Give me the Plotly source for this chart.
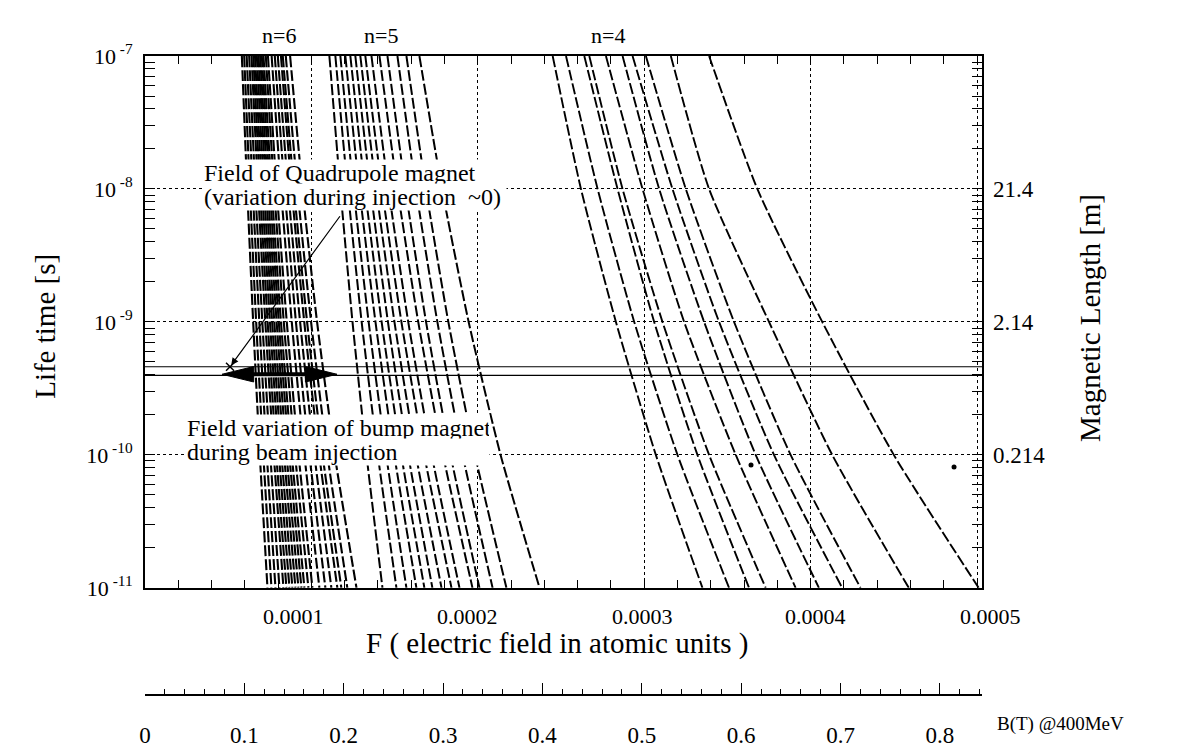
import math
import plotly.graph_objects as go

# ---------------- data ----------------
# lifetime levels (s) at which every curve was read
tau_levels = [1e-7, 1e-8, 1e-9, 1e-10, 1e-11]

# electric field F (units of 1e-4 a.u.) of each curve at the lifetime levels above
n6_curves = [
    [0.582, 0.614, 0.650, 0.690, 0.736],
    [0.596, 0.630, 0.668, 0.711, 0.760],
    [0.611, 0.647, 0.687, 0.732, 0.784],
    [0.626, 0.663, 0.705, 0.753, 0.808],
    [0.640, 0.679, 0.723, 0.774, 0.832],
    [0.651, 0.691, 0.737, 0.789, 0.850],
    [0.661, 0.703, 0.751, 0.805, 0.868],
    [0.672, 0.715, 0.764, 0.820, 0.886],
    [0.682, 0.727, 0.777, 0.836, 0.904],
    [0.692, 0.738, 0.791, 0.851, 0.922],
    [0.702, 0.750, 0.804, 0.867, 0.940],
    [0.712, 0.761, 0.817, 0.882, 0.958],
    [0.726, 0.776, 0.834, 0.902, 0.982],
    [0.739, 0.791, 0.852, 0.923, 1.006],
    [0.761, 0.817, 0.882, 0.958, 1.048],
    [0.780, 0.839, 0.907, 0.988, 1.084],
    [0.798, 0.860, 0.932, 1.018, 1.120],
    [0.817, 0.881, 0.957, 1.047, 1.156],
    [0.828, 0.895, 0.974, 1.067, 1.180],
    [0.846, 0.916, 0.998, 1.096, 1.216],
    [0.872, 0.946, 1.034, 1.140, 1.271],
]
n5_curves = [
    [1.108, 1.174, 1.247, 1.331, 1.427],
    [1.144, 1.218, 1.302, 1.399, 1.511],
    [1.174, 1.253, 1.344, 1.449, 1.571],
    [1.204, 1.288, 1.385, 1.498, 1.631],
    [1.234, 1.322, 1.422, 1.540, 1.679],
    [1.264, 1.355, 1.460, 1.582, 1.727],
    [1.294, 1.389, 1.499, 1.628, 1.782],
    [1.324, 1.424, 1.541, 1.678, 1.842],
    [1.361, 1.463, 1.582, 1.723, 1.890],
    [1.409, 1.517, 1.642, 1.791, 1.968],
    [1.457, 1.565, 1.689, 1.836, 2.010],
    [1.517, 1.628, 1.757, 1.909, 2.089],
    [1.571, 1.688, 1.823, 1.983, 2.172],
    [1.649, 1.785, 1.945, 2.137, 2.371],
]
n4_curves = [
    [2.45, 2.62, 2.83, 3.07, 3.35],
    [2.53, 2.72, 2.94, 3.20, 3.51],
    [2.64, 2.84, 3.06, 3.32, 3.63],
    [2.67, 2.87, 3.11, 3.39, 3.73],
    [2.77, 2.99, 3.24, 3.55, 3.91],
    [2.87, 3.09, 3.36, 3.67, 4.05],
    [2.93, 3.17, 3.45, 3.78, 4.19],
    [3.01, 3.25, 3.54, 3.88, 4.30],
    [3.16, 3.39, 3.75, 4.13, 4.59],
    [3.39, 3.68, 4.07, 4.50, 5.01],
]
F_unit = 1e-4

stray_F = [3.642, 4.862]          # isolated dots (1e-4 a.u.)
stray_tau = [8.4e-11, 8.1e-11]

tau_quad = 4.6e-10                # Field of quadrupole magnet
tau_bump = 3.96e-10               # Field variation of bump magnet
bump_range_F = [0.463, 1.154]     # double arrow extent (1e-4 a.u.)
quad_point_F = 0.511
quad_point_tau = 4.6e-10

F_tick_labels = ["0.0001", "0.0002", "0.0003", "0.0004", "0.0005"]
F_label_px = [293, 467, 642, 815, 990]          # where the labels sit in the figure
y_tick_vals = [1e-11, 1e-10, 1e-9, 1e-8, 1e-7]
y_tick_text = ["10<sup>\u00a0-11</sup>", "10<sup>\u00a0-10</sup>", "10<sup>\u00a0-9</sup>",
               "10<sup>\u00a0-8</sup>", "10<sup>\u00a0-7</sup>"]
mag_tick_vals = [1e-8, 1e-9, 1e-10]
mag_tick_text = ["21.4", "2.14", "0.214"]
B_range = [0.0, 0.8424]

# ---------------- layout geometry ----------------
W, H = 1184, 750
ML, MR, MT, MB = 145, 202, 56, 0
PW, PH = W - ML - MR, H - MT - MB
X_MAX = 5.03e-4
Y_BOTTOM_PX = 598
B_AXIS_PX = 707


def px_x(px):
    return (px - ML) / PW


def px_y(py):
    return (H - py) / PH


FONT = "Liberation Serif, Times New Roman, serif"
fig = go.Figure()

dash = "11px,3px"
for group, lw in ((n6_curves, 2.1), (n5_curves, 2.0), (n4_curves, 1.9)):
    for c in group:
        fig.add_trace(go.Scatter(
            x=[v * F_unit for v in c], y=tau_levels, mode="lines",
            line=dict(color="black", width=lw, dash=dash, shape="spline", smoothing=0.6),
            hoverinfo="skip"))

# horizontal field lines
fig.add_trace(go.Scatter(x=[0, X_MAX], y=[tau_quad, tau_quad], mode="lines",
                         line=dict(color="black", width=1.2), hoverinfo="skip", yaxis="y2"))
fig.add_trace(go.Scatter(x=[0, X_MAX], y=[tau_bump, tau_bump], mode="lines",
                         line=dict(color="black", width=1.2), hoverinfo="skip"))

# double arrow for bump field variation
hl = 0.19 * F_unit
hh = 10 ** 0.058
L, R = bump_range_F[0] * F_unit, bump_range_F[1] * F_unit
ya = tau_bump * 1.02
fig.add_trace(go.Scatter(x=[L + hl * 0.9, R - hl * 0.9], y=[ya, ya], mode="lines",
                         line=dict(color="black", width=4), hoverinfo="skip"))
for tip, d in ((L, 1), (R, -1)):
    fig.add_trace(go.Scatter(
        x=[tip, tip + d * hl, tip + d * hl, tip],
        y=[ya, ya * hh, ya / hh, ya],
        mode="lines", fill="toself", fillcolor="black",
        line=dict(color="black", width=1), hoverinfo="skip"))

# marker at the quadrupole arrow head
fig.add_trace(go.Scatter(x=[quad_point_F * F_unit], y=[quad_point_tau], mode="markers",
                         marker=dict(symbol="x-thin", size=8, line=dict(color="black", width=1.5)),
                         hoverinfo="skip"))
# stray dots
fig.add_trace(go.Scatter(x=[v * F_unit for v in stray_F], y=stray_tau, mode="markers",
                         marker=dict(color="black", size=5), hoverinfo="skip"))
# dummy trace to activate the B axis
fig.add_trace(go.Scatter(x=[None], y=[None], xaxis="x2", yaxis="y", hoverinfo="skip"))

minor_log = [m * 10.0 ** e for e in range(-11, -7) for m in range(2, 10)]
y_dom0 = px_y(Y_BOTTOM_PX)

fig.update_layout(
    width=W, height=H, margin=dict(l=ML, r=MR, t=MT, b=MB),
    paper_bgcolor="white", plot_bgcolor="white", showlegend=False,
    font=dict(family=FONT, size=22, color="black"),
    xaxis=dict(range=[0, X_MAX], domain=[0, 1], anchor="y",
               showline=True, linewidth=2, linecolor="black", mirror="allticks",
               ticks="inside", ticklen=8, tickwidth=1, tickcolor="black",
               tick0=0, dtick=1e-4, showticklabels=False,
               showgrid=True, gridcolor="black", gridwidth=1, griddash="dot", zeroline=False,
               minor=dict(dtick=2e-5, tick0=0, ticks="inside", ticklen=5, tickcolor="black", showgrid=False)),
    yaxis=dict(type="log", range=[-11, -7], domain=[y_dom0, 1], anchor="x",
               showline=True, linewidth=2, linecolor="black", mirror="allticks",
               ticks="inside", ticklen=10, tickwidth=1, tickcolor="black",
               tickmode="array", tickvals=y_tick_vals, ticktext=y_tick_text,
               tickfont=dict(size=22), ticklabelstandoff=6,
               showgrid=True, gridcolor="black", gridwidth=1, griddash="dot", zeroline=False,
               minor=dict(tickmode="array", tickvals=minor_log, ticks="inside", ticklen=5,
                          tickcolor="black", showgrid=False)),
    yaxis2=dict(type="log", range=[-11, -7], overlaying="y", side="right", anchor="x",
                tickmode="array", tickvals=mag_tick_vals, ticktext=mag_tick_text,
                ticks="", showline=False, showgrid=False, zeroline=False,
                tickfont=dict(size=23), ticklabelstandoff=10),
    xaxis2=dict(overlaying="x", anchor="free", position=px_y(B_AXIS_PX), side="bottom",
                range=B_range, showline=True, linewidth=1.5, linecolor="black",
                ticks="inside", ticklen=11, tickwidth=1, tickcolor="black",
                tick0=0, dtick=0.1, tickformat=".1~f", showgrid=False, zeroline=False,
                tickfont=dict(size=23), ticklabelstandoff=20,
                minor=dict(dtick=0.02, tick0=0, ticks="inside", ticklen=5, tickcolor="black", showgrid=False)),
)

ann = []
# F axis tick labels (placed as in the figure)
for lab, px in zip(F_tick_labels, F_label_px):
    ann.append(dict(x=px_x(px), y=px_y(627), xref="paper", yref="paper", text=lab,
                    showarrow=False, font=dict(size=22), xanchor="center", yanchor="middle"))
ann += [
    dict(x=px_x(557), y=px_y(655), xref="paper", yref="paper",
         text="F ( electric field in atomic units )", showarrow=False,
         font=dict(size=29), xanchor="center", yanchor="middle"),
    dict(x=px_x(45), y=px_y(332), xref="paper", yref="paper", text="Life time [s]",
         showarrow=False, textangle=-90, font=dict(size=29), xanchor="center", yanchor="middle"),
    dict(x=px_x(1090), y=px_y(323), xref="paper", yref="paper", text="Magnetic Length [m]",
         showarrow=False, textangle=-90, font=dict(size=29), xanchor="center", yanchor="middle"),
    dict(x=px_x(1060), y=px_y(737), xref="paper", yref="paper", text="B(T) @400MeV",
         showarrow=False, font=dict(size=19), xanchor="center", yanchor="middle"),
    dict(x=px_x(260), y=px_y(20), xref="paper", yref="paper", text="n=6",
         showarrow=False, font=dict(size=22)),
    dict(x=px_x(362), y=px_y(20), xref="paper", yref="paper", text="n=5",
         showarrow=False, font=dict(size=22)),
    dict(x=px_x(608), y=px_y(20), xref="paper", yref="paper", text="n=4",
         showarrow=False, font=dict(size=22)),
]
# in-plot texts with white boxes
for txt, px, py in [("Field of Quadrupole magnet", 203, 175),
                    ("(variation during injection\u00a0\u00a0~0)", 203, 200),
                    ("Field variation of bump magnet", 186, 435),
                    ("during beam injection", 186, 460)]:
    ann.append(dict(x=px_x(px), y=px_y(py), xref="paper", yref="paper", text=txt,
                    showarrow=False, font=dict(size=24), xanchor="left", yanchor="middle",
                    align="left", bgcolor="white", width=302, borderpad=0))
# thin arrow pointing to the quadrupole field line
ann.append(dict(x=quad_point_F * F_unit, y=math.log10(quad_point_tau), xref="x", yref="y",
                ax=111, ay=-152, axref="pixel", ayref="pixel", text="", showarrow=True,
                arrowhead=2, arrowsize=1.2, arrowwidth=1.2, arrowcolor="black", standoff=2))
fig.update_layout(annotations=ann)

fig.write_html("out.html")
